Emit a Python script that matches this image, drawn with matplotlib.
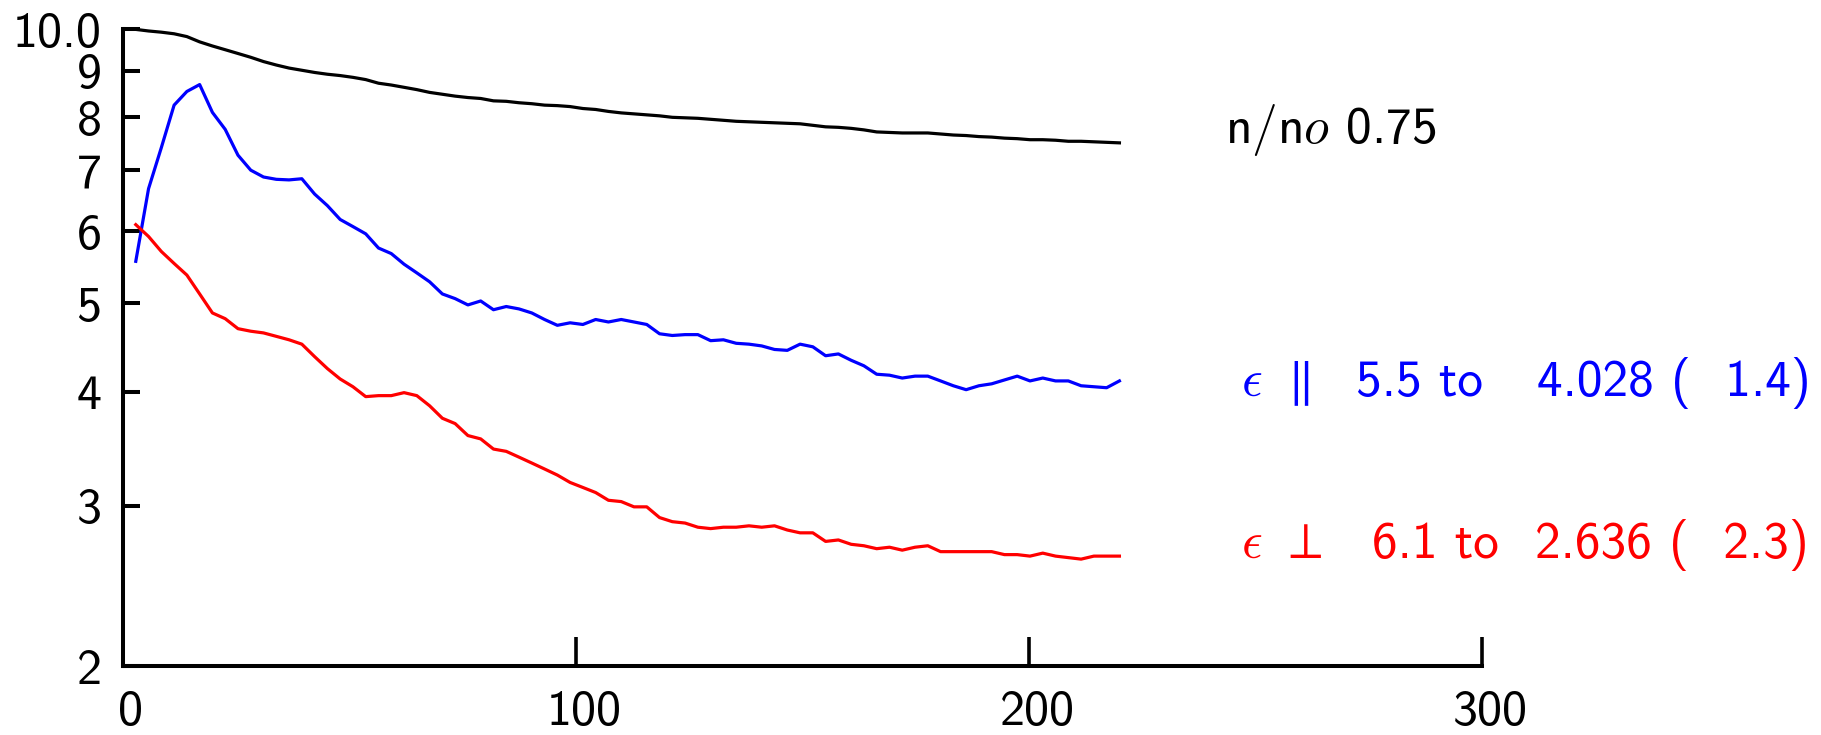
import numpy as np
import matplotlib
matplotlib.use("Agg")
import matplotlib.pyplot as plt
from matplotlib.ticker import FixedLocator, NullLocator, NullFormatter
from matplotlib.transforms import ScaledTranslation

plt.rcParams['font.family'] = ['cmss10', 'DejaVu Sans']
plt.rcParams['mathtext.fontset'] = 'cm'
plt.rcParams['axes.unicode_minus'] = False

# sample index -> x position (one point every ~2.82 units)
x = np.arange(1, 79) * 2.82

n_ratio = [9.99, 9.95, 9.92, 9.88, 9.81, 9.68, 9.58, 9.49, 9.40, 9.31,
           9.21, 9.13, 9.06, 9.01, 8.96, 8.92, 8.89, 8.85, 8.80,
           8.72, 8.68, 8.63, 8.58, 8.52, 8.48, 8.44, 8.41, 8.39, 8.34,
           8.33, 8.30, 8.28, 8.25, 8.24, 8.22, 8.18, 8.16, 8.12, 8.09,
           8.07, 8.05, 8.03, 8.00, 7.99, 7.98, 7.96, 7.94, 7.92, 7.91,
           7.90, 7.89, 7.88, 7.87, 7.84, 7.81, 7.80, 7.78, 7.75,
           7.71, 7.70, 7.69, 7.69, 7.69, 7.67, 7.65, 7.64, 7.62, 7.61,
           7.59, 7.58, 7.56, 7.56, 7.55, 7.53, 7.53, 7.52, 7.51, 7.50]

eps_par = [5.56, 6.68, 7.41, 8.25, 8.54, 8.69, 8.10, 7.76, 7.27, 7.00,
           6.88, 6.84, 6.83, 6.85, 6.59, 6.40, 6.18, 6.07, 5.96,
           5.75, 5.67, 5.52, 5.40, 5.28, 5.12, 5.06, 4.98, 5.03, 4.92,
           4.96, 4.93, 4.88, 4.80, 4.73, 4.76, 4.74, 4.80, 4.77, 4.80,
           4.77, 4.74, 4.63, 4.61, 4.62, 4.62, 4.55, 4.56, 4.52, 4.51,
           4.49, 4.45, 4.44, 4.51, 4.48, 4.38, 4.40, 4.33, 4.27,
           4.18, 4.17, 4.14, 4.16, 4.16, 4.11, 4.06, 4.02, 4.06, 4.08,
           4.12, 4.16, 4.11, 4.14, 4.11, 4.11, 4.06, 4.05, 4.04, 4.11]

eps_perp = [6.10, 5.92, 5.70, 5.53, 5.37, 5.12, 4.88, 4.81, 4.69, 4.66,
            4.64, 4.60, 4.56, 4.51, 4.37, 4.24, 4.13, 4.05, 3.95,
            3.96, 3.96, 3.99, 3.96, 3.86, 3.74, 3.69, 3.58, 3.55, 3.46,
            3.44, 3.39, 3.34, 3.29, 3.24, 3.18, 3.14, 3.10, 3.04, 3.03,
            2.99, 2.99, 2.91, 2.88, 2.87, 2.84, 2.83, 2.84, 2.84, 2.85,
            2.84, 2.85, 2.82, 2.80, 2.80, 2.74, 2.75, 2.72, 2.71,
            2.69, 2.70, 2.68, 2.70, 2.71, 2.67, 2.67, 2.67, 2.67, 2.67,
            2.65, 2.65, 2.64, 2.66, 2.64, 2.63, 2.62, 2.64, 2.64, 2.64]

yticks = [2, 3, 4, 5, 6, 7, 8, 9, 10]
ytick_labels = ['2', '3', '4', '5', '6', '7', '8', '9', '10.0']
xticks = [0, 100, 200, 300]

W, H = 1821, 735
fig = plt.figure(figsize=(W / 100, H / 100), dpi=100)
ax = fig.add_axes([123 / W, 1 - 666 / H, (1482 - 123) / W, (666 - 29) / H])

ax.plot(x, n_ratio, color='black', lw=2.3, clip_on=False)
ax.plot(x, eps_par, color='blue', lw=2.3, clip_on=False)
ax.plot(x, eps_perp, color='red', lw=2.3, clip_on=False)

ax.set_yscale('log')
ax.set_xlim(0, 300)
ax.set_ylim(2, 10)

ax.yaxis.set_major_locator(FixedLocator(yticks))
ax.set_yticklabels(ytick_labels)
ax.yaxis.set_minor_locator(NullLocator())
ax.yaxis.set_minor_formatter(NullFormatter())
ax.set_xticks(xticks)
ax.set_xticklabels([str(t) for t in xticks])

for s in ['top', 'right']:
    ax.spines[s].set_visible(False)
for s in ['left', 'bottom']:
    ax.spines[s].set_linewidth(2.9)

ax.tick_params(axis='y', direction='in', length=12, width=2.9, pad=15.5,
               labelsize=36)
ax.tick_params(axis='x', direction='in', length=21, width=2.6, pad=17,
               labelsize=36)

shift = ScaledTranslation(8 / 100, 0, fig.dpi_scale_trans)
for lab in ax.get_xticklabels():
    lab.set_transform(lab.get_transform() + shift)


def put(px, py, s, color):
    fig.text(px / W, 1 - py / H, s, color=color, fontsize=37,
             ha='left', va='baseline')


put(1225, 143, r'n$/$n$o$ 0.75', 'black')

put(1241, 396, r'$\epsilon$ $\parallel$', 'blue')
put(1356, 396, '5.5 to', 'blue')
put(1537, 396, '4.028 (  1.4)', 'blue')

put(1241, 558, r'$\epsilon$ $\perp$', 'red')
put(1372, 558, '6.1 to', 'red')
put(1535, 558, '2.636 (  2.3)', 'red')

fig.savefig('out.png', dpi=100)
